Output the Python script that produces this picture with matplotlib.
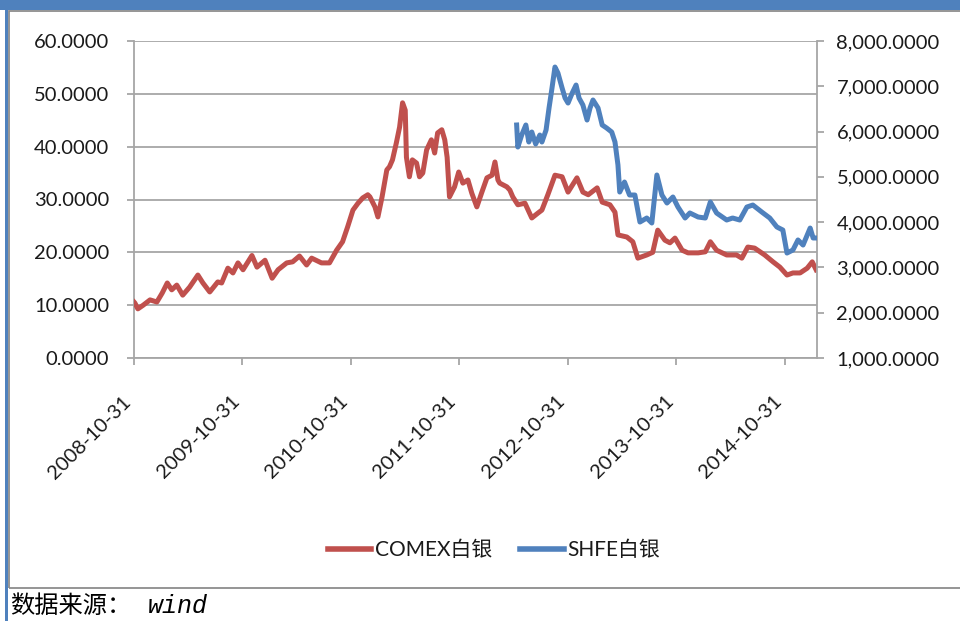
import matplotlib
matplotlib.use('Agg')
import matplotlib.pyplot as plt
from matplotlib.patches import Rectangle
from matplotlib.lines import Line2D
import pandas as pd

plt.rcParams['font.family'] = ['Lato', 'Noto Sans CJK SC', 'DejaVu Sans']

# COMEX silver (left axis)
comex_dates = ['2008-10-31', '2008-11-03', '2008-11-13', '2008-12-01', '2008-12-24', '2009-01-16',
               '2009-02-03', '2009-02-20', '2009-03-07', '2009-03-24', '2009-04-13', '2009-05-06',
               '2009-06-03', '2009-06-20', '2009-07-13', '2009-08-09', '2009-08-22', '2009-09-12',
               '2009-09-29', '2009-10-16', '2009-11-02', '2009-12-02', '2009-12-19', '2010-01-15',
               '2010-02-08', '2010-02-28', '2010-03-29', '2010-04-18', '2010-05-11', '2010-06-04',
               '2010-06-21', '2010-07-24', '2010-08-20', '2010-09-13', '2010-10-03', '2010-10-20',
               '2010-11-07', '2010-11-24', '2010-12-10', '2010-12-27', '2011-01-03', '2011-01-20',
               '2011-01-30', '2011-02-13', '2011-03-01', '2011-03-10', '2011-03-20', '2011-04-02',
               '2011-04-13', '2011-04-23', '2011-05-02', '2011-05-06', '2011-05-16', '2011-05-26',
               '2011-06-09', '2011-06-19', '2011-06-30', '2011-07-13', '2011-07-29', '2011-08-09',
               '2011-08-19', '2011-09-02', '2011-09-12', '2011-09-20', '2011-09-28', '2011-10-15',
               '2011-10-29', '2011-11-12', '2011-11-29', '2011-12-12', '2011-12-29', '2012-01-15',
               '2012-02-01', '2012-02-18', '2012-02-28', '2012-03-09', '2012-03-15', '2012-04-08',
               '2012-04-18', '2012-04-28', '2012-05-15', '2012-06-08', '2012-07-01', '2012-07-21',
               '2012-08-04', '2012-08-24', '2012-09-17', '2012-10-11', '2012-10-31', '2012-11-30',
               '2012-12-20', '2013-01-07', '2013-02-06', '2013-02-23', '2013-03-21', '2013-04-07',
               '2013-04-17', '2013-05-17', '2013-06-06', '2013-06-23', '2013-07-23', '2013-08-12',
               '2013-08-29', '2013-09-22', '2013-10-09', '2013-10-26', '2013-11-19', '2013-12-09',
               '2014-01-12', '2014-02-05', '2014-02-22', '2014-03-15', '2014-04-18', '2014-05-21',
               '2014-06-08', '2014-06-28', '2014-07-21', '2014-08-24', '2014-09-21', '2014-10-14',
               '2014-11-07', '2014-11-27', '2014-12-21', '2015-01-14', '2015-01-31', '2015-02-13']
comex_values = [10.6, 10.4, 9.3, 10.0, 11.0, 10.6,
                12.3, 14.2, 12.9, 13.8, 11.9, 13.4,
                15.7, 14.2, 12.5, 14.4, 14.2, 17.0,
                16.1, 18.0, 16.7, 19.4, 17.2, 18.5,
                15.1, 16.7, 18.0, 18.2, 19.3, 17.6,
                18.9, 18.0, 18.0, 20.4, 22.0, 24.8,
                28.0, 29.3, 30.3, 30.9, 30.5, 28.6,
                26.7, 30.5, 35.6, 36.2, 37.5, 40.7,
                43.7, 48.3, 46.9, 38.0, 34.3, 37.5,
                36.9, 34.3, 35.0, 39.4, 41.3, 38.8,
                42.6, 43.2, 41.3, 38.0, 30.5, 32.4,
                35.2, 33.1, 33.7, 31.2, 28.6, 31.4,
                34.1, 34.6, 37.1, 33.7, 33.1, 32.4,
                31.8, 30.5, 29.0, 29.3, 26.5, 27.4,
                28.0, 30.9, 34.6, 34.3, 31.4, 34.1,
                31.4, 30.9, 32.2, 29.5, 29.0, 27.6,
                23.3, 22.9, 22.0, 18.9, 19.5, 20.0,
                24.2, 22.3, 21.8, 22.7, 20.4, 19.9,
                19.9, 20.1, 22.0, 20.4, 19.5, 19.5,
                18.9, 21.0, 20.8, 19.5, 18.2, 17.2,
                15.7, 16.1, 16.1, 17.0, 18.2, 16.7]

# SHFE silver (right axis)
shfe_dates = ['2012-05-11', '2012-05-15', '2012-05-28', '2012-06-11', '2012-06-21', '2012-07-01',
              '2012-07-14', '2012-07-28', '2012-08-04', '2012-08-18', '2012-08-28', '2012-09-07',
              '2012-09-17', '2012-09-27', '2012-10-11', '2012-10-21', '2012-10-31', '2012-11-14',
              '2012-11-27', '2012-12-07', '2012-12-20', '2013-01-03', '2013-01-13', '2013-01-23',
              '2013-02-09', '2013-02-23', '2013-03-10', '2013-03-27', '2013-04-07', '2013-04-17',
              '2013-04-23', '2013-05-09', '2013-05-26', '2013-06-13', '2013-06-30', '2013-07-23',
              '2013-08-09', '2013-08-26', '2013-09-12', '2013-09-29', '2013-10-19', '2013-11-05',
              '2013-11-29', '2013-12-15', '2014-01-12', '2014-02-05', '2014-02-22', '2014-03-15',
              '2014-04-18', '2014-05-08', '2014-06-01', '2014-06-25', '2014-07-15', '2014-08-14',
              '2014-09-10', '2014-10-04', '2014-10-24', '2014-11-07', '2014-11-27', '2014-12-14',
              '2014-12-31', '2015-01-24', '2015-02-03', '2015-02-13']
shfe_values = [6145, 5659, 5924, 6145, 5770, 5990,
               5725, 5924, 5770, 6034, 6520, 6962,
               7425, 7293, 6962, 6741, 6630, 6851,
               7028, 6741, 6586, 6255, 6520, 6697,
               6520, 6145, 6078, 5990, 5770, 5262,
               4665, 4886, 4599, 4599, 4003, 4091,
               3981, 5041, 4599, 4422, 4555, 4334,
               4091, 4202, 4113, 4091, 4445, 4202,
               4047, 4091, 4047, 4334, 4378, 4224,
               4091, 3893, 3826, 3318, 3385, 3606,
               3495, 3870, 3650, 3650]

tick_labels = ['2008-10-31', '2009-10-31', '2010-10-31', '2011-10-31',
               '2012-10-31', '2013-10-31', '2014-10-31']
left_ticks = [0, 10, 20, 30, 40, 50, 60]
right_ticks = [1000, 2000, 3000, 4000, 5000, 6000, 7000, 8000]
series_names = ['COMEX白银', 'SHFE白银']
source_note = '数据来源：'
source_word = 'wind'

red = '#C0504D'
blue = '#4F81BD'
grid_gray = '#A6A6A6'
text_col = '#1a1a1a'

fig = plt.figure(figsize=(9.6, 6.21), dpi=100)
W, H = 960.0, 621.0

# outer decorations (frame, top bar, left strip)
fig.patches.append(Rectangle((0, 1 - 10 / H), 1, 10 / H, transform=fig.transFigure,
                             facecolor=blue, edgecolor='none', zorder=0))
fig.patches.append(Rectangle((5 / W, 0), 3 / W, 1 - 10 / H, transform=fig.transFigure,
                             facecolor=blue, edgecolor='none', zorder=0))
fig.patches.append(Rectangle((9 / W, 1 - 588 / H), 1.0, (588 - 11) / H, transform=fig.transFigure,
                             facecolor='none', edgecolor='#8C8C8C', lw=1.3, zorder=0))

ax = fig.add_axes([134 / W, 1 - 358 / H, (817 - 134) / W, (358 - 41) / H])
ax2 = ax.twinx()

x1 = pd.to_datetime(comex_dates)
x2 = pd.to_datetime(shfe_dates)
ax.plot(x1, comex_values, color=red, lw=3.6, solid_joinstyle='round', zorder=3)
ax2.plot(x2, shfe_values, color=blue, lw=3.6, solid_joinstyle='round', zorder=3)

ax.set_xlim(pd.Timestamp('2008-10-31'), pd.Timestamp('2015-02-16'))
ax.set_ylim(0, 60)
ax2.set_ylim(1000, 8000)

ax.set_yticks(left_ticks)
ax.set_yticklabels([f'{v:.4f}' for v in left_ticks])
ax2.set_yticks(right_ticks)
ax2.set_yticklabels([f'{v:,.4f}' for v in right_ticks])

ax.set_xticks(pd.to_datetime(tick_labels))
ax.set_xticklabels(tick_labels, rotation=45, ha='right')

ax.grid(axis='y', color=grid_gray, lw=1.3)
ax.set_axisbelow(True)
for a in (ax, ax2):
    for s in a.spines.values():
        s.set_visible(False)
ax.spines['left'].set_visible(True)
ax.spines['left'].set_color(grid_gray)
ax.spines['left'].set_linewidth(1.3)
ax.spines['bottom'].set_visible(True)
ax.spines['bottom'].set_color(grid_gray)
ax.spines['bottom'].set_linewidth(1.3)
ax2.spines['right'].set_visible(True)
ax2.spines['right'].set_color(grid_gray)
ax2.spines['right'].set_linewidth(1.3)

ax.tick_params(axis='y', length=5, width=1.3, color=grid_gray, pad=13, labelsize=14.5, labelcolor=text_col)
ax.tick_params(axis='x', length=5, width=1.3, color=grid_gray, pad=20, labelsize=14.5, labelcolor=text_col)
ax2.tick_params(axis='y', length=5, width=1.3, color=grid_gray, pad=9, labelsize=14.5, labelcolor=text_col)

handles = [Line2D([], [], color=red, lw=4), Line2D([], [], color=blue, lw=4)]
fig.legend(handles, series_names, loc='center', bbox_to_anchor=(494 / W, 1 - 550 / H),
           ncol=2, frameon=False, fontsize=15, handlelength=2.1, handletextpad=0.2,
           columnspacing=1.3, labelcolor=text_col)

fig.text(10 / W, 1 - 606 / H, source_note, fontsize=17.5, va='center', ha='left',
         family=['Noto Sans CJK SC', 'DejaVu Sans'], color='black')
fig.text(148 / W, 1 - 606 / H, source_word, fontsize=18, va='center', ha='left',
         family=['Liberation Mono', 'DejaVu Sans Mono'], style='italic', color='black')

fig.savefig('out.png', dpi=100, facecolor='white')
